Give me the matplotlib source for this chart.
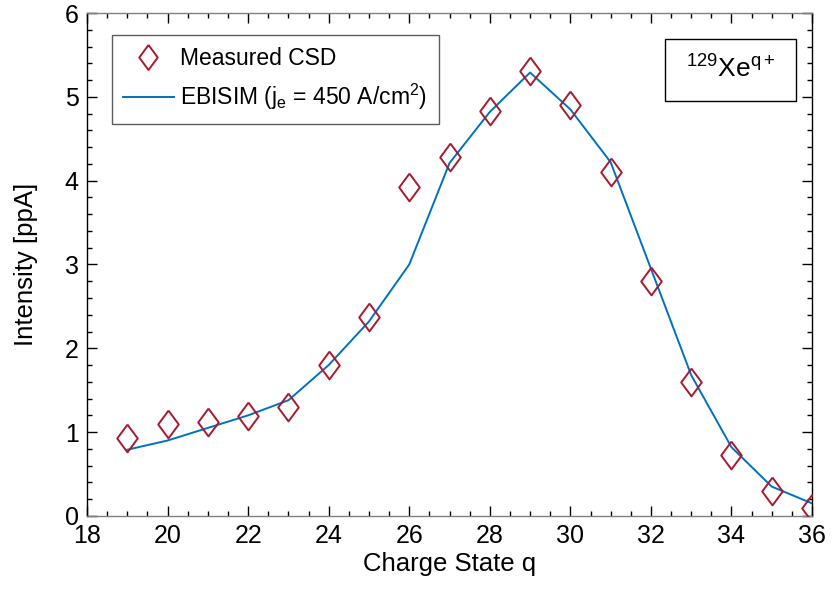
import matplotlib
matplotlib.use('Agg')
import matplotlib.pyplot as plt
from matplotlib.patches import Rectangle
from matplotlib.ticker import MultipleLocator

plt.rcParams['font.family'] = ['Liberation Sans', 'DejaVu Sans']
plt.rcParams['mathtext.fontset'] = 'custom'
plt.rcParams['mathtext.rm'] = 'Liberation Sans'
plt.rcParams['mathtext.it'] = 'Liberation Sans'

# charge states
q = [19, 20, 21, 22, 23, 24, 25, 26, 27, 28, 29, 30, 31, 32, 33, 34, 35, 36]
# measured CSD
measured = [0.93, 1.10, 1.12, 1.19, 1.30, 1.80, 2.37, 3.92, 4.28, 4.83, 5.31, 4.90,
            4.10, 2.80, 1.60, 0.73, 0.30, 0.10]
# EBISIM simulation
ebisim = [0.79, 0.90, 1.05, 1.20, 1.38, 1.80, 2.32, 3.00, 4.21, 4.82, 5.29, 4.85,
          4.22, 2.95, 1.68, 0.82, 0.35, 0.15]

red = '#A6192E'
blue = '#0072BD'
diamond = [(0, 1), (0.74, 0), (0, -1), (-0.74, 0), (0, 1)]

fig = plt.figure(figsize=(8.32, 5.91), dpi=100)
ax = fig.add_axes([0.1046, 0.127, 0.8714, 0.851])

ax.plot(q, measured, linestyle='none', marker=diamond, markersize=20,
        markerfacecolor='none', markeredgecolor=red, markeredgewidth=1.4,
        label='Measured CSD', zorder=3)
ax.plot(q, ebisim, color=blue, linewidth=1.4,
        label='EBISIM (j$_{\\mathregular{e}}$ = 450 A/cm$^{\\mathregular{2}}$)', zorder=2)

ax.set_xlim(18, 36)
ax.set_ylim(0, 6)
ax.xaxis.set_major_locator(MultipleLocator(2))
ax.xaxis.set_minor_locator(MultipleLocator(0.5))
ax.yaxis.set_major_locator(MultipleLocator(1))
ax.yaxis.set_minor_locator(MultipleLocator(0.2))
ax.tick_params(which='both', direction='in', top=True, right=True, labelsize=18, pad=6)
ax.tick_params(which='major', length=7, width=1)
ax.tick_params(which='minor', length=3.5, width=1)
for s in ['left', 'right']:
    ax.spines[s].set_color('black')
for s in ['top', 'bottom']:
    ax.spines[s].set_color('#808080')
for s in ax.spines.values():
    s.set_linewidth(1)

ax.set_xlabel('Charge State q', fontsize=18.5, labelpad=3)
ax.set_ylabel('Intensity [ppA]', fontsize=18.5, labelpad=19)

leg = ax.legend(loc='upper left', bbox_to_anchor=(0.034, 0.956), fontsize=16.5,
                frameon=True, fancybox=False, edgecolor='#333333',
                borderpad=0.5, handlelength=2.2, labelspacing=0.55,
                borderaxespad=0, handletextpad=0.3, markerscale=0.9)
leg.get_frame().set_linewidth(1)

# isotope label box
ax.add_patch(Rectangle((0.797, 0.825), 0.181, 0.123, transform=ax.transAxes,
                       facecolor='white', edgecolor='black', linewidth=1, zorder=4))
ax.text(0.8875, 0.889, '$^{\\mathregular{129}}$Xe$^{\\mathregular{q+}}$', transform=ax.transAxes,
        ha='center', va='center', fontsize=19, zorder=5)

fig.savefig('out.png', dpi=100)
